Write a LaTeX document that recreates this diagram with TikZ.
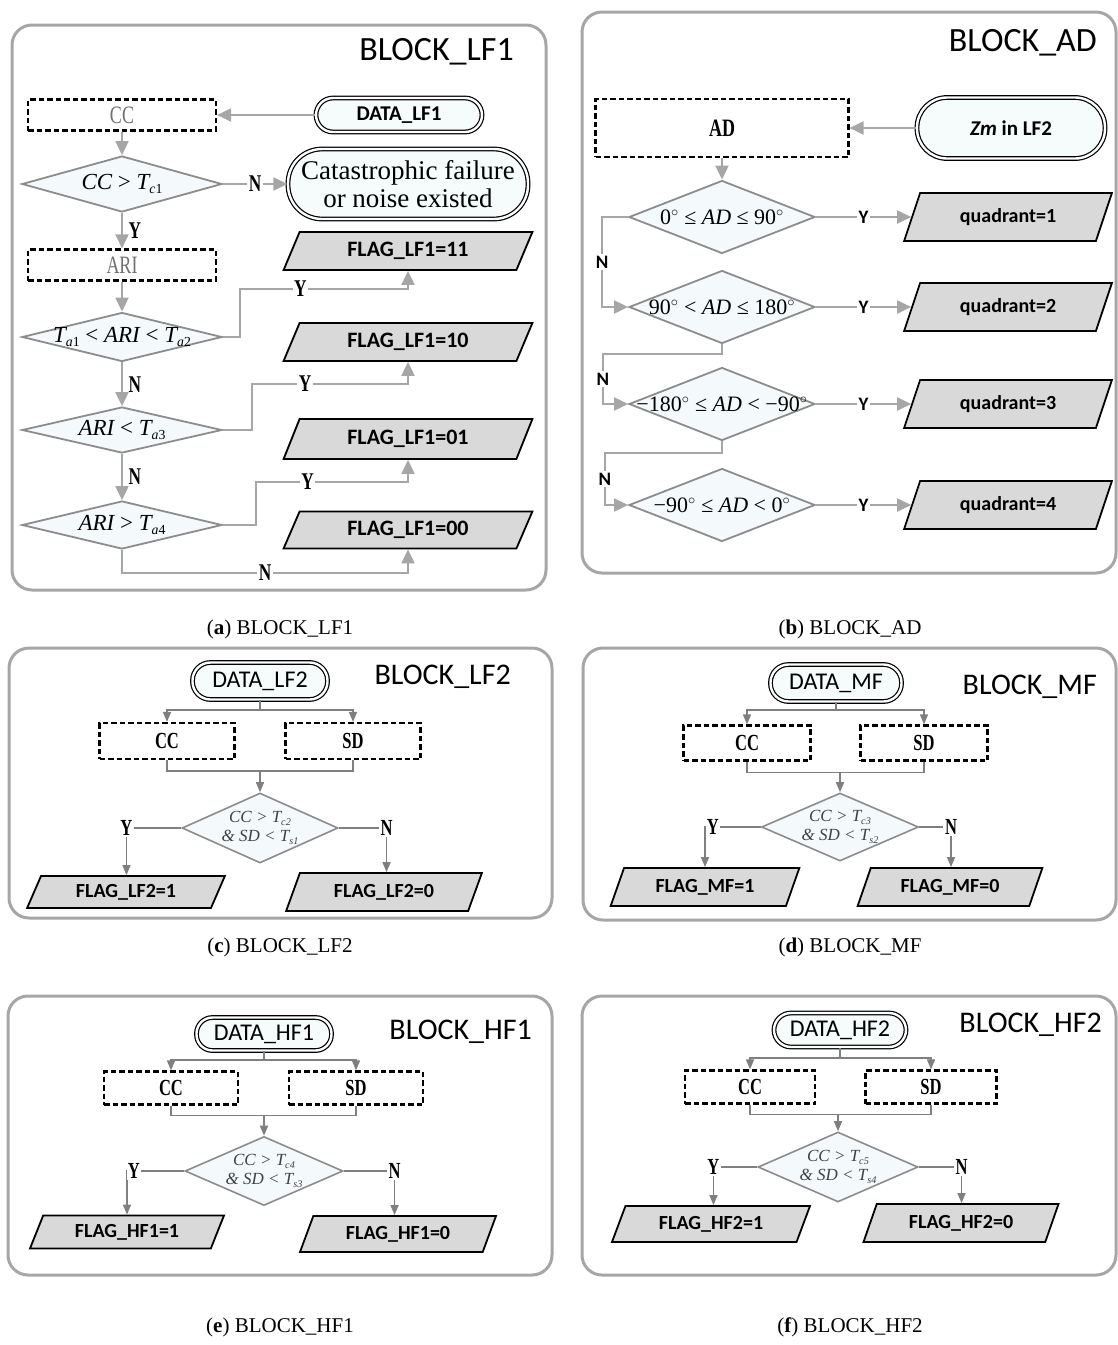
\documentclass[tikz,border=0pt]{standalone}
\usepackage{fontspec}
\setmainfont{Liberation Serif}
\newfontfamily\calib{Carlito}
\newfontfamily\cserif[FakeStretch=0.72]{Liberation Serif}
\usetikzlibrary{arrows.meta,shapes.geometric,shapes.misc}
\definecolor{pgray}{HTML}{A6A6A6}
\definecolor{cgray}{HTML}{A6A6A6}
\definecolor{cgray2}{HTML}{7F7F7F}
\definecolor{dgray}{HTML}{8C8C8C}
\definecolor{dfill}{HTML}{F4FAFC}
\definecolor{pfill}{HTML}{D9D9D9}
\definecolor{tfill}{HTML}{F6FBFC}
\definecolor{gtext}{HTML}{707070}
\definecolor{dtext}{HTML}{404040}
\newcommand\fsz[2]{\fontsize{#1}{#2}\selectfont}
\newcommand\lsub[1]{\raisebox{-0.35ex}{\scalebox{0.6}{#1}}}
\newcommand\degsym{\ensuremath{^{\circ}}}
\begin{document}
\begin{tikzpicture}[x=1pt,y=-1pt,
  panelbox/.style={draw=pgray, line width=3pt, rounded corners=20pt},
  captxt/.style={font=\fsz{21}{24}, inner sep=0pt},
  blocktitle/.style={font=\calib\fsz{34}{34}, inner sep=0pt, anchor=east},
  blocktitlec/.style={font=\calib\fsz{30}{30}, inner sep=0pt, anchor=east},
  termbox/.style={rectangle, draw=black, line width=1.2pt, double=white, double distance=2.4pt, fill=tfill, inner sep=0pt},
  dbox/.style={draw=black, line width=2.2pt, dash pattern=on 5.5pt off 3pt, inner sep=0pt, fill=white},
  dboxc/.style={dbox, font=\cserif\bfseries\fsz{23}{23}},
  diabox/.style={diamond, draw=dgray, line width=1.8pt, fill=dfill, inner sep=0pt},
  parabox/.style={trapezium, trapezium left angle=65, trapezium right angle=115, trapezium stretches=true, draw=black, line width=1.8pt, fill=pfill, inner sep=1pt, font=\calib\bfseries\fsz{20}{20}},
  conA/.style={draw=cgray, line width=2pt, -{Triangle[length=14pt,width=13pt]}},
  conC/.style={draw=cgray2, line width=1.5pt, -{Triangle[length=10pt,width=8pt]}},
  lineC/.style={draw=cgray2, line width=1.5pt},
  lblA/.style={font=\cserif\bfseries\fsz{24}{24}, inner sep=1.5pt, fill=white},
  lblAn/.style={font=\cserif\bfseries\fsz{24}{24}, inner sep=1.5pt},
  lblB/.style={font=\calib\bfseries\fsz{19}{19}, inner sep=1.5pt, fill=white},
  lblC/.style={font=\cserif\bfseries\fsz{23}{23}, inner sep=1pt},
  dtA/.style={font=\fsz{23}{23}, inner sep=0pt},
  dtB/.style={font=\fsz{22}{22}, inner sep=0pt},
  dtC/.style={font=\itshape\fsz{17}{19}, text=dtext, align=center, inner sep=0pt}
]
\useasboundingbox (0,0) rectangle (1118,1345);

% ---------- panels ----------
\draw[panelbox] (12,25) rectangle (546,590);
\draw[panelbox] (582,12) rectangle (1116,573);
\draw[panelbox] (9,648) rectangle (552,918);
\draw[panelbox] (583,648) rectangle (1116,920);
\draw[panelbox] (8,996) rectangle (552,1275);
\draw[panelbox] (582,996) rectangle (1116,1275);

% ---------- captions ----------
\node[captxt] (capa) at (280,629) {(\textbf{a}) BLOCK\_LF1};
\node[captxt] (capb) at (850,629) {(\textbf{b}) BLOCK\_AD};
\node[captxt] (capc) at (280,947) {(\textbf{c}) BLOCK\_LF2};
\node[captxt] (capd) at (850,947) {(\textbf{d}) BLOCK\_MF};
\node[captxt] (cape) at (280,1327) {(\textbf{e}) BLOCK\_HF1};
\node[captxt] (capf) at (850,1327) {(\textbf{f}) BLOCK\_HF2};

% ---------- (a) BLOCK_LF1 ----------
\node[blocktitle] (ta) at (514,52) {BLOCK\_LF1};
\node[termbox, rounded corners=17pt, minimum width=166pt, minimum height=34pt, font=\calib\bfseries\fsz{21}{21}] (dlf1) at (399,115) {DATA\_LF1};
\node[dbox, minimum width=188pt, minimum height=31pt, font=\cserif\fsz{25}{25}, text=gtext] (cca) at (122,115) {CC};
\draw[conA] (dlf1.west) -- (cca.east);
\node[diabox, minimum width=200pt, minimum height=56pt] (a1) at (122,184) {};
\node[dtA] (a1t) at (a1) {{\itshape CC} > {\itshape T}\lsub{{\itshape c}1}};
\draw[conA] (cca.south) -- (a1.north);
\node[termbox, rounded corners=34pt, minimum width=240pt, minimum height=70pt, font=\fsz{27}{28}, align=center] (cat) at (408,184) {Catastrophic failure\\or noise existed};
\draw[conA] (a1.east) -- node[lblA]{N} (cat.west);
\node[dbox, minimum width=188pt, minimum height=31pt, font=\cserif\fsz{25}{25}, text=gtext] (ari) at (122,265) {ARI};
\draw[conA] (a1.south) -- node[lblAn, right=4pt]{Y} (ari.north);
\node[parabox, minimum width=249pt, minimum height=38pt, font=\calib\bfseries\fsz{22}{22}] (f11) at (408,251) {FLAG\_LF1=11};
\node[diabox, minimum width=200pt, minimum height=49pt] (a2) at (122,337) {};
\node[dtA] (a2t) at (a2) {{\itshape T}\lsub{{\itshape a}1} < {\itshape ARI} < {\itshape T}\lsub{{\itshape a}2}};
\draw[conA] (ari.south) -- (a2.north);
\draw[conA] (a2.east) -| (240,289) -| node[lblA,pos=0.18]{Y} (f11.south);
\node[parabox, minimum width=249pt, minimum height=38pt, font=\calib\bfseries\fsz{22}{22}] (f10) at (408,342) {FLAG\_LF1=10};
\node[diabox, minimum width=200pt, minimum height=46pt] (a3) at (122,430) {};
\node[dtA] (a3t) at (a3) {{\itshape ARI} < {\itshape T}\lsub{{\itshape a}3}};
\draw[conA] (a2.south) -- node[lblAn, right=4pt]{N} (a3.north);
\draw[conA] (a3.east) -| (252,384) -| node[lblA,pos=0.17]{Y} (f10.south);
\node[parabox, minimum width=249pt, minimum height=40pt, font=\calib\bfseries\fsz{22}{22}] (f01) at (408,439) {FLAG\_LF1=01};
\node[diabox, minimum width=200pt, minimum height=48pt] (a4) at (122,525) {};
\node[dtA] (a4t) at (a4) {{\itshape ARI} > {\itshape T}\lsub{{\itshape a}4}};
\draw[conA] (a3.south) -- node[lblAn, right=4pt]{N} (a4.north);
\draw[conA] (a4.east) -| (256,482) -| node[lblA,pos=0.17]{Y} (f01.south);
\node[parabox, minimum width=249pt, minimum height=37pt, font=\calib\bfseries\fsz{22}{22}] (f00) at (408,530) {FLAG\_LF1=00};
\draw[conA] (a4.south) -- (122,573) -| node[lblA,pos=0.25]{N} (f00.south);

% ---------- (b) BLOCK_AD ----------
\node[blocktitle] (tb) at (1097,43) {BLOCK\_AD};
\node[termbox, rounded corners=30pt, minimum width=188pt, minimum height=61pt, font=\calib\bfseries\fsz{21}{21}] (zm) at (1011,128) {{\itshape Zm} in LF2};
\node[dbox, minimum width=253pt, minimum height=58pt, font=\cserif\bfseries\fsz{25}{25}] (ad) at (722,128) {AD};
\draw[conA] (zm.west) -- (ad.east);
\node[diabox, minimum width=186pt, minimum height=73pt] (b1) at (722,217) {};
\node[dtB] (b1t) at (b1) {0\degsym{} ≤ {\itshape AD} ≤ 90\degsym};
\draw[conA] (ad.south) -- (b1.north);
\node[parabox, minimum width=208pt, minimum height=48pt] (q1) at (1008,217) {quadrant=1};
\draw[conA] (b1.east) -- node[lblB]{Y} (q1.left side);
\node[diabox, minimum width=186pt, minimum height=73pt] (b2) at (722,307) {};
\node[dtB] (b2t) at (b2) {90\degsym{} < {\itshape AD} ≤ 180\degsym};
\draw[conA] (b1.west) -- ++(-26,0) |- node[lblB,pos=0.25]{N} (b2.west);
\node[parabox, minimum width=208pt, minimum height=48pt] (q2) at (1008,307) {quadrant=2};
\draw[conA] (b2.east) -- node[lblB]{Y} (q2.left side);
\node[diabox, minimum width=186pt, minimum height=73pt] (b3) at (722,404) {};
\node[dtB] (b3t) at (b3) {−180\degsym{} ≤ {\itshape AD} < −90\degsym};
\draw[conA] (b2.south) |- (603,354) |- node[lblB,pos=0.25]{N} (b3.west);
\node[parabox, minimum width=208pt, minimum height=48pt] (q3) at (1008,404) {quadrant=3};
\draw[conA] (b3.east) -- node[lblB]{Y} (q3.left side);
\node[diabox, minimum width=186pt, minimum height=73pt] (b4) at (722,505) {};
\node[dtB] (b4t) at (b4) {−90\degsym{} ≤ {\itshape AD} < 0\degsym};
\draw[conA] (b3.south) |- (605,453) |- node[lblB,pos=0.25]{N} (b4.west);
\node[parabox, minimum width=208pt, minimum height=48pt] (q4) at (1008,505) {quadrant=4};
\draw[conA] (b4.east) -- node[lblB]{Y} (q4.left side);

% ---------- (c) BLOCK_LF2 ----------
\node[blocktitlec] (tc) at (511,677) {BLOCK\_LF2};
\node[termbox, rounded corners=18pt, minimum width=135pt, minimum height=37pt, font=\calib\fsz{24}{24}] (dlf2) at (260,681) {DATA\_LF2};
\node[dboxc, minimum width=135pt, minimum height=36pt] (ccc) at (167,741) {CC};
\node[dboxc, minimum width=135pt, minimum height=36pt] (sdc) at (353,741) {SD};
\draw[lineC] (dlf2.south) -- (260,710) coordinate (cfork);
\draw[conC] (cfork) -| (ccc.north);
\draw[conC] (cfork) -| (sdc.north);
\draw[lineC] (ccc.south) -- ++(0,11) -| (sdc.south);
\coordinate (cjoin) at (260,770);
\node[diabox, line width=1.6pt, minimum width=156pt, minimum height=70pt] (dc) at (260,828) {};
\node[dtC] (dct) at (dc) {CC > T\lsub{c2}\\\& SD < T\lsub{s1}};
\draw[conC] (cjoin) -- (dc.north);
\node[parabox, minimum width=198pt, minimum height=32pt] (fc1) at (126,892) {FLAG\_LF2=1};
\node[parabox, minimum width=196pt, minimum height=38pt] (fc0) at (384,892) {FLAG\_LF2=0};
\draw[lineC] (dc.west) -- ++(-47,0) node[lblC, anchor=east] (cy) {Y};
\draw[conC] (cy.south) -- (cy.south |- fc1.north);
\draw[lineC] (dc.east) -- ++(40,0) node[lblC, anchor=west] (cn) {N};
\draw[conC] (cn.south) -- (cn.south |- fc0.north);

% ---------- (d) BLOCK_MF ----------
\node[blocktitlec] (td) at (1097,687) {BLOCK\_MF};
\node[termbox, rounded corners=18pt, minimum width=131pt, minimum height=37pt, font=\calib\fsz{24}{24}] (dmf) at (836,683) {DATA\_MF};
\node[dboxc, minimum width=127pt, minimum height=35pt] (ccd) at (747,743) {CC};
\node[dboxc, minimum width=127pt, minimum height=35pt] (sdd) at (924,743) {SD};
\draw[lineC] (dmf.south) -- (836,710) coordinate (dfork);
\draw[conC] (dfork) -| (ccd.north);
\draw[conC] (dfork) -| (sdd.north);
\draw[lineC] (ccd.south) -- ++(0,11) -| (sdd.south);
\coordinate (djoin) at (840,772);
\node[diabox, line width=1.6pt, minimum width=157pt, minimum height=68pt] (dd) at (840,827) {};
\node[dtC] (ddt) at (dd) {CC > T\lsub{c3}\\\& SD < T\lsub{s2}};
\draw[conC] (djoin) -- (dd.north);
\node[parabox, minimum width=189pt, minimum height=38pt] (fd1) at (705,887) {FLAG\_MF=1};
\node[parabox, minimum width=185pt, minimum height=38pt] (fd0) at (950,887) {FLAG\_MF=0};
\draw[conC] (dd.west) -| node[lblC, fill=white, pos=0.43]{Y} (fd1.north);
\draw[lineC] (dd.east) -- ++(24,0) node[lblC, anchor=west] (dn) {N};
\draw[conC] (dn.south) -- (dn.south |- fd0.north);

% ---------- (e) BLOCK_HF1 ----------
\node[blocktitlec] (te) at (532,1032) {BLOCK\_HF1};
\node[termbox, rounded corners=16pt, minimum width=135pt, minimum height=33pt, font=\calib\fsz{24}{24}] (dhf1) at (264,1034) {DATA\_HF1};
\node[dboxc, minimum width=134pt, minimum height=33pt] (cce) at (171,1088) {CC};
\node[dboxc, minimum width=134pt, minimum height=33pt] (sde) at (356,1088) {SD};
\draw[lineC] (dhf1.south) -- (264,1060) coordinate (efork);
\draw[conC] (efork) -| (cce.north);
\draw[conC] (efork) -| (sde.north);
\draw[lineC] (cce.south) -- ++(0,10) -| (sde.south);
\coordinate (ejoin) at (264,1115);
\node[diabox, line width=1.6pt, minimum width=158pt, minimum height=69pt] (de) at (264,1171) {};
\node[dtC] (det) at (de) {CC > T\lsub{c4}\\\& SD < T\lsub{s3}};
\draw[conC] (ejoin) -- (de.north);
\node[parabox, minimum width=194pt, minimum height=33pt] (fe1) at (127,1232) {FLAG\_HF1=1};
\node[parabox, minimum width=196pt, minimum height=36pt] (fe0) at (398,1234) {FLAG\_HF1=0};
\draw[conC] (de.west) -| node[lblC, fill=white, pos=0.44]{Y} (fe1.north);
\draw[lineC] (de.east) -- ++(43,0) node[lblC, anchor=west] (en) {N};
\draw[conC] (en.south) -- (en.south |- fe0.north);

% ---------- (f) BLOCK_HF2 ----------
\node[blocktitlec] (tf) at (1102,1025) {BLOCK\_HF2};
\node[termbox, rounded corners=17pt, minimum width=132pt, minimum height=34pt, font=\calib\fsz{24}{24}] (dhf2) at (840,1030) {DATA\_HF2};
\node[dboxc, minimum width=130pt, minimum height=33pt] (ccf) at (750,1087) {CC};
\node[dboxc, minimum width=131pt, minimum height=33pt] (sdf) at (931,1087) {SD};
\draw[lineC] (dhf2.south) -- (840,1058) coordinate (ffork);
\draw[conC] (ffork) -| (ccf.north);
\draw[conC] (ffork) -| (sdf.north);
\draw[lineC] (ccf.south) -- ++(0,10) -| (sdf.south);
\coordinate (fjoin) at (838,1114);
\node[diabox, line width=1.6pt, minimum width=160pt, minimum height=70pt] (df) at (838,1167) {};
\node[dtC] (dft) at (df) {CC > T\lsub{c5}\\\& SD < T\lsub{s4}};
\draw[conC] (fjoin) -- (df.north);
\node[parabox, minimum width=198pt, minimum height=36pt] (ff1) at (711,1224) {FLAG\_HF2=1};
\node[parabox, minimum width=195pt, minimum height=38pt] (ff0) at (961,1223) {FLAG\_HF2=0};
\draw[lineC] (df.west) -- ++(-36,0) node[lblC, anchor=east] (fy) {Y};
\draw[conC] (fy.south) -- (fy.south |- ff1.north);
\draw[lineC] (df.east) -- ++(35,0) node[lblC, anchor=west] (fn) {N};
\draw[conC] (fn.south) -- (fn.south |- ff0.north);
\end{tikzpicture}
\end{document}
